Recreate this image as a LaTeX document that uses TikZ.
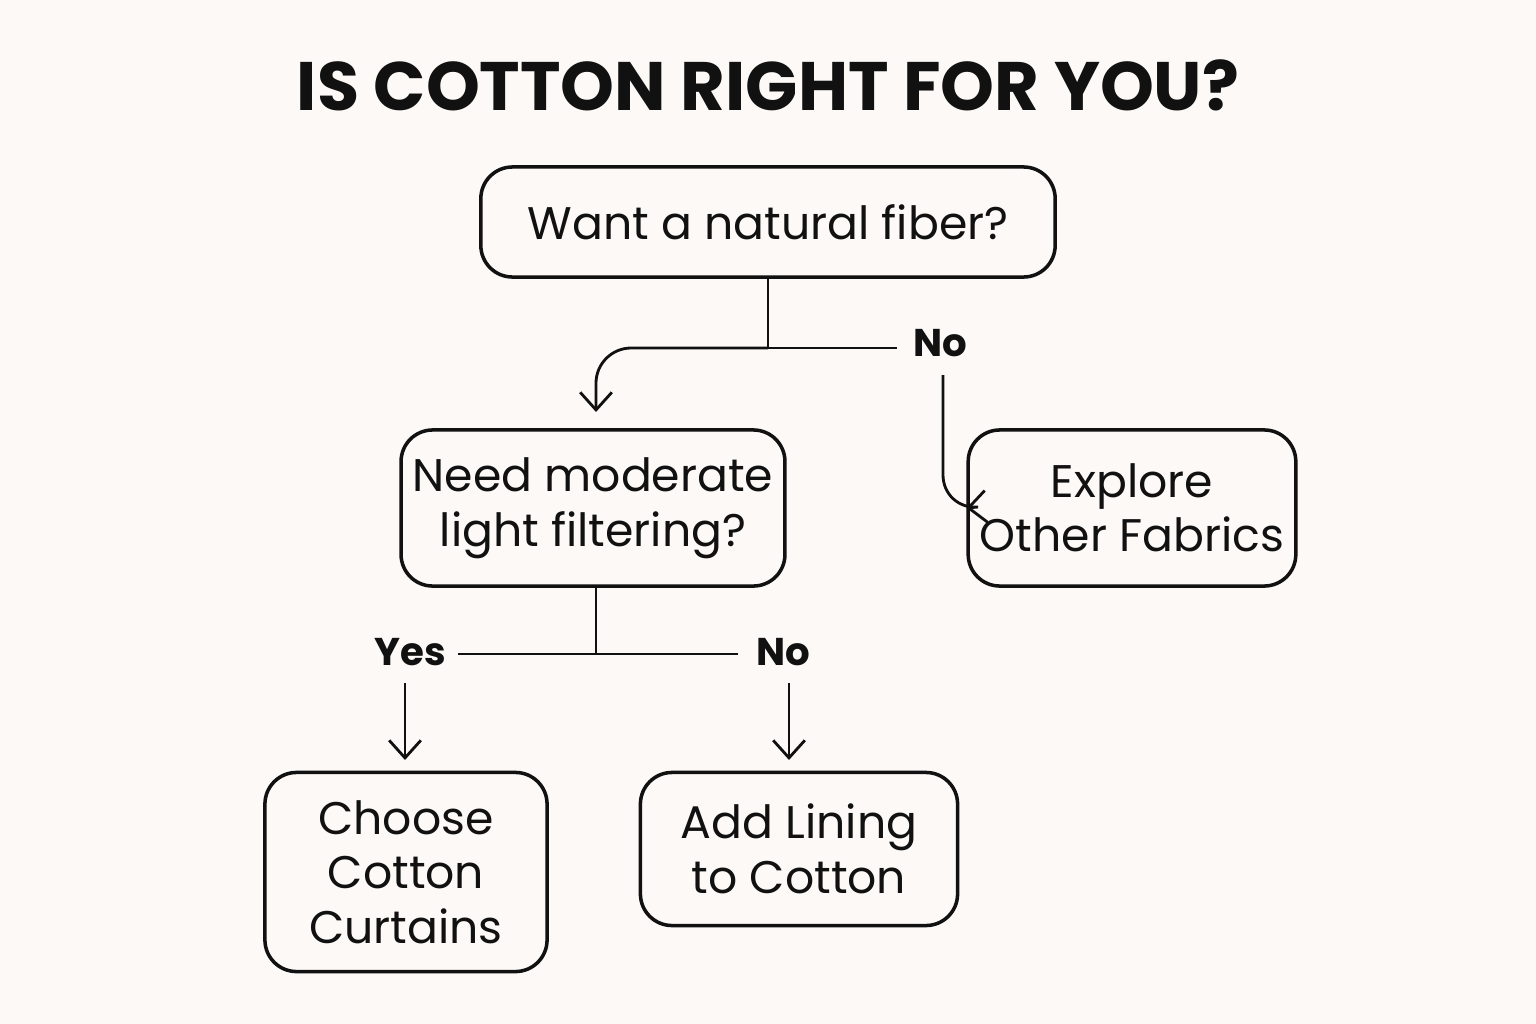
\documentclass[tikz,border=0pt]{standalone}
\usepackage{fontspec}
\setmainfont{Poppins}
\usetikzlibrary{arrows.meta}
\definecolor{paper}{HTML}{FCF9F6}
\definecolor{ink}{HTML}{111111}

\begin{document}
\begin{tikzpicture}[x=0.01cm,y=-0.01cm,
      every node/.style={text=ink},
      box/.style={draw=ink,line width=1pt,rounded corners=9pt,align=center,font=\fontsize{13}{15.5}\selectfont},
      lbl/.style={font=\bfseries\fontsize{11}{13}\selectfont},
      link/.style={draw=ink,line width=0.8pt,rounded corners=10pt},
      arr/.style={link,-{Straight Barb[length=5pt,width=9pt]}}
    ]
    \fill[paper] (0,0) rectangle (1536,1024);
    \useasboundingbox (0,0) rectangle (1536,1024);

    % title
    \node[font=\bfseries\fontsize{19.5}{23}\selectfont] (title) at (768,85) {IS COTTON RIGHT FOR YOU?};

    % boxes
    \node[box,minimum width=5.74cm,minimum height=1.10cm] (fiber) at (768,222) {Want a natural fiber?};
    \node[box,minimum width=3.78cm,minimum height=1.56cm] (light) at (593,508) {Need moderate\\light filtering?};
    \node[box,minimum width=2.89cm,minimum height=1.56cm] (other) at (1132,508) {Explore\\Other Fabrics};
    \node[box,minimum width=2.82cm,minimum height=1.99cm] (choose) at (406,872) {Choose\\Cotton\\Curtains};
    \node[box,minimum width=3.17cm,minimum height=1.53cm] (lining) at (799,849) {Add Lining\\to Cotton};

    % labels
    \node[lbl] (no1) at (940,343) {No};
    \node[lbl] (yes2) at (410,652) {Yes};
    \node[lbl] (no2) at (783,652) {No};

    % connectors
    \coordinate (split1) at (768,348);
    \coordinate (split2) at (596,654);
    \draw[link] (fiber.south) -- (split1);
    \draw[arr] (split1) -- (596,348) -- (596,412);
    \draw[link] (split1) -- (897,348);
    \draw[arr] (943,375) -- (943,510) -- (other.west);
    \draw[link] (light.south -| split2) -- (split2);
    \draw[link] (split2) -- (458,654);
    \draw[link] (split2) -- (738,654);
    \draw[arr] (405,683) -- (405,760);
    \draw[arr] (789,683) -- (789,760);
\end{tikzpicture}
\end{document}
